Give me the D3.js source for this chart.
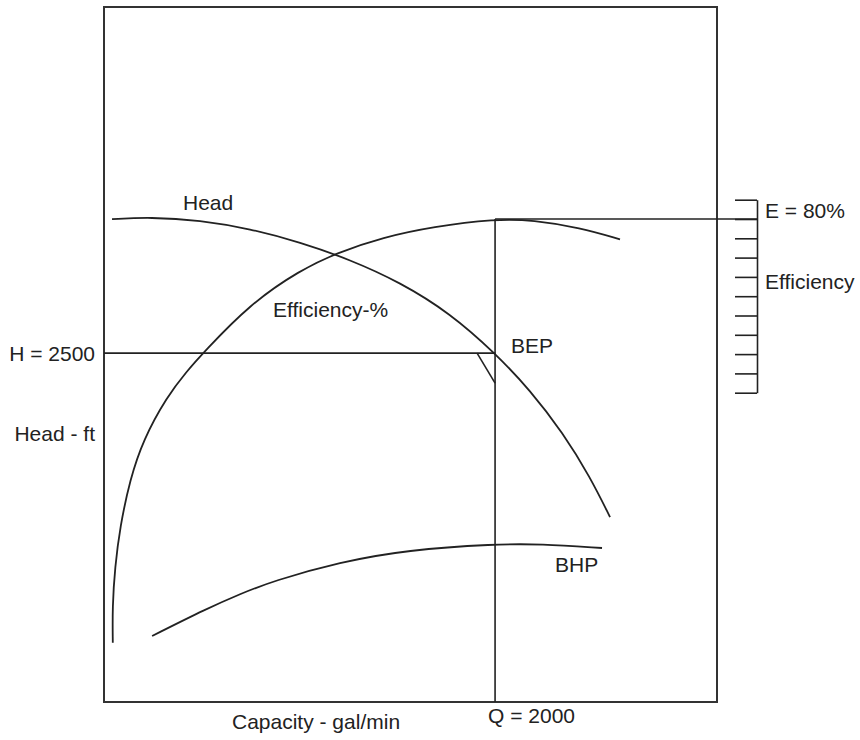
<!DOCTYPE html>
<html>
<head>
<meta charset="utf-8">
<script src="https://cdn.jsdelivr.net/npm/d3@7"></script>
<style>
  html, body { margin: 0; padding: 0; background: #fff; }
  svg text { font-family: "Liberation Sans", Arial, sans-serif; font-size: 21px; fill: #222; }
</style>
</head>
<body>
<svg id="chart" width="860" height="740"></svg>
<script>
// ---- data (capacity in gal/min, head in ft, efficiency in %, brake horsepower) ----
const headQ   = [41, 235, 491, 747, 1003, 1258, 1514, 1770, 2000, 2179, 2348, 2486, 2588];
const headFt  = [3460, 3474, 3453, 3391, 3295, 3170, 3008, 2786, 2500, 2235, 1927, 1612, 1325];

const effQ    = [45, 43, 56, 82, 133, 200, 322, 425, 506, 747, 1003, 1192, 1427, 1683, 2000, 2194, 2435, 2639];
const effPct  = [36.1, 39.8, 43.9, 48.1, 53.0, 57.1, 61.6, 64.25, 66.1, 71.2, 74.7, 76.5, 78.1, 79.2, 80.0, 79.9, 79.1, 77.9];

const bhpQ    = [246, 527, 696, 864, 1207, 1550, 2000, 2230, 2547];
const bhpHp   = [660, 935, 1080, 1210, 1400, 1520, 1580, 1580, 1540];

const bepQ = 2000, bepHead = 2500, bepEff = 80;
const bepMarkQ = [1908, 2000];
const bepMarkHead = [2500, 2285];
const effGaugeTicks = [82, 80, 78, 76, 74, 72, 70, 68, 66, 64, 62];

const labels = {
  head: "Head", eff: "Efficiency-%", bep: "BEP", bhp: "BHP",
  hLine: "H = 2500", yTitle: "Head - ft", qLine: "Q = 2000",
  xTitle: "Capacity - gal/min", eLine: "E = 80%", effTitle: "Efficiency"
};

// ---- scales ----
const x = d3.scaleLinear().domain([0, 3135]).range([104, 717]);
const yHead = d3.scaleLinear().domain([0, 4980]).range([702, 7]);
const yEff = d3.scaleLinear().domain([0, 80]).range([991, 219]);
const yBhp = d3.scaleLinear().domain([0, 1580]).range([702, 544]);

const svg = d3.select("#chart");
const ink = "#222";

// frame
svg.append("rect")
  .attr("x", x(0)).attr("y", yHead(4980))
  .attr("width", x(3135) - x(0)).attr("height", yHead(0) - yHead(4980))
  .attr("fill", "none").attr("stroke", "#333").attr("stroke-width", 2);

const lineGen = (xs, ys, yS) => d3.line()
  .x((d, i) => x(xs[i]))
  .y((d, i) => yS(ys[i]))
  .curve(d3.curveBasis)(xs);

const curveStyle = p => p.attr("fill", "none").attr("stroke", ink).attr("stroke-width", 1.8);

svg.append("path").attr("d", lineGen(headQ, headFt, yHead)).call(curveStyle);
svg.append("path").attr("d", lineGen(effQ, effPct, yEff)).call(curveStyle);
svg.append("path").attr("d", lineGen(bhpQ, bhpHp, yBhp)).call(curveStyle);

// reference lines
const refStyle = p => p.attr("stroke", ink).attr("stroke-width", 1.6);
svg.append("line")
  .attr("x1", x(0)).attr("x2", x(bepQ))
  .attr("y1", yHead(bepHead)).attr("y2", yHead(bepHead)).call(refStyle);
svg.append("line")
  .attr("x1", x(bepQ)).attr("x2", x(bepQ))
  .attr("y1", yEff(bepEff)).attr("y2", yHead(0)).call(refStyle);

// efficiency gauge
const gaugeX = 757;
const gauge = d3.scaleLinear()
  .domain([d3.min(effGaugeTicks), d3.max(effGaugeTicks)])
  .range([yEff(d3.min(effGaugeTicks)), yEff(d3.max(effGaugeTicks))]);
svg.append("line")
  .attr("x1", x(bepQ)).attr("x2", gaugeX)
  .attr("y1", yEff(bepEff)).attr("y2", yEff(bepEff)).call(refStyle);
const gAxis = svg.append("g").attr("transform", `translate(${gaugeX},0)`)
  .call(d3.axisLeft(gauge).tickValues(effGaugeTicks).tickSize(22).tickSizeOuter(0).tickFormat(""));
gAxis.selectAll("path, line").attr("stroke", ink).attr("stroke-width", 1.6);

// BEP marker
svg.append("line")
  .attr("x1", x(bepMarkQ[0])).attr("y1", yHead(bepMarkHead[0]))
  .attr("x2", x(bepMarkQ[1])).attr("y2", yHead(bepMarkHead[1])).call(refStyle);

// labels
const txt = (s, xx, yy, anchor) => svg.append("text").attr("x", xx).attr("y", yy)
  .attr("text-anchor", anchor || "start").text(s);
txt(labels.head, 183, 210);
txt(labels.eff, 273, 317);
txt(labels.bep, 511, 353);
txt(labels.bhp, 555, 572);
txt(labels.hLine, 95, yHead(bepHead) + 8, "end");
txt(labels.yTitle, 95, 441, "end");
txt(labels.qLine, x(bepQ) - 7, 723);
txt(labels.xTitle, 232, 729);
txt(labels.eLine, 765, 218);
txt(labels.effTitle, 765, 289);
</script>
</body>
</html>
